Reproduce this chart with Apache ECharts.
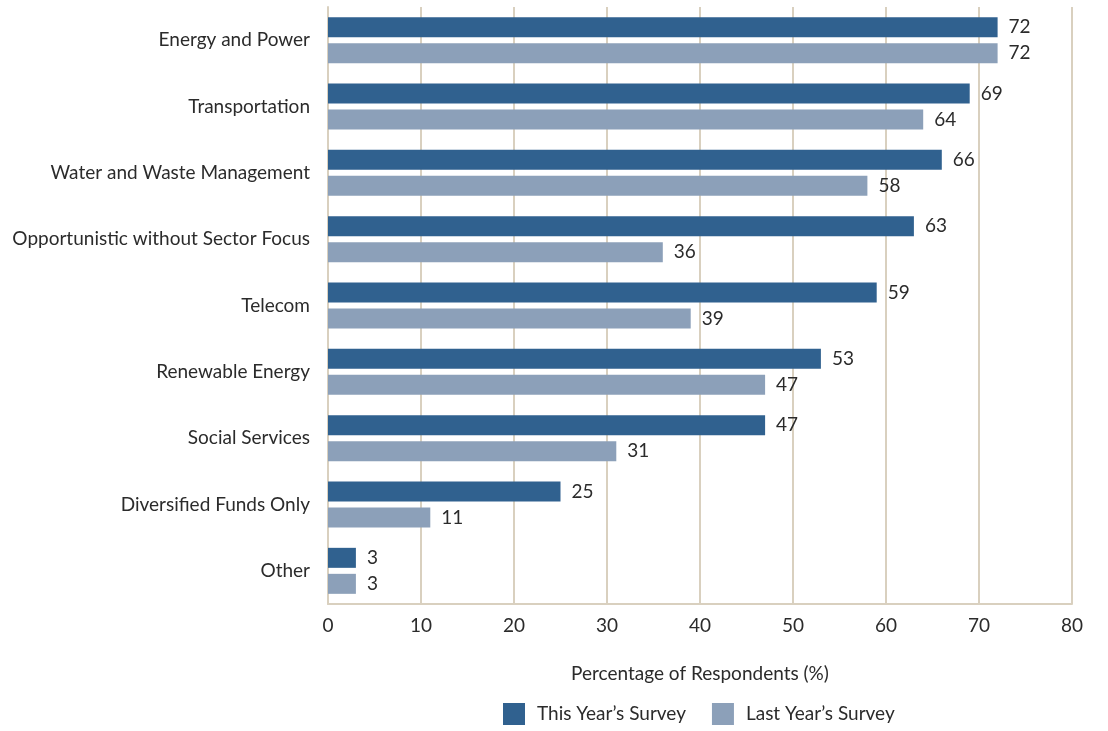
<!DOCTYPE html>
<html>
<head>
<meta charset="utf-8">
<script src="https://cdn.jsdelivr.net/npm/echarts@6/dist/echarts.min.js"></script>
<style>
  html, body { margin: 0; padding: 0; background: #fff; }
  #chart { width: 1108px; height: 731px; }
</style>
</head>
<body>
<div id="chart"></div>
<script>
// Sectors, listed top to bottom
const categories = [
  'Energy and Power',
  'Transportation',
  'Water and Waste Management',
  'Opportunistic without Sector Focus',
  'Telecom',
  'Renewable Energy',
  'Social Services',
  'Diversified Funds Only',
  'Other'
];
const thisYear = [72, 69, 66, 63, 59, 53, 47, 25, 3];
const lastYear = [72, 64, 58, 36, 39, 47, 31, 11, 3];
const xTicks = [0, 10, 20, 30, 40, 50, 60, 70, 80];

const FONT = 'Lato, "Open Sans", sans-serif';
const SIZE = 19;
const TEXT = '#2b2b2b';
const GRID = '#d9d0bf';

const chart = echarts.init(document.getElementById('chart'));

const labelStyle = {
  show: true,
  position: 'right',
  distance: 11,
  color: TEXT,
  fontFamily: FONT,
  fontSize: SIZE
};

chart.setOption({
  animation: false,
  grid: { left: 328, right: 36, top: 7, bottom: 127, containLabel: false },
  legend: {
    top: 703,
    left: 503,
    icon: 'rect',
    itemWidth: 22,
    itemHeight: 22,
    itemGap: 26,
    padding: 0,
    textStyle: { color: TEXT, fontFamily: FONT, fontSize: SIZE, padding: [0, 0, 0, 7] },
    data: ['This Year\u2019s Survey', 'Last Year\u2019s Survey']
  },
  xAxis: {
    type: 'value',
    min: xTicks[0],
    max: xTicks[xTicks.length - 1],
    interval: 10,
    name: 'Percentage of Respondents (%)',
    nameLocation: 'middle',
    nameGap: 60,
    nameTextStyle: { color: TEXT, fontFamily: FONT, fontSize: SIZE },
    axisLine: { show: true, lineStyle: { color: GRID, width: 2 } },
    axisTick: { show: false },
    axisLabel: { color: TEXT, fontFamily: FONT, fontSize: SIZE, margin: 12 },
    splitLine: { show: true, lineStyle: { color: GRID, width: 2 } }
  },
  yAxis: {
    type: 'category',
    data: categories,
    inverse: true,
    axisLine: { show: true, lineStyle: { color: GRID, width: 2 } },
    axisTick: { show: false },
    axisLabel: { color: TEXT, fontFamily: FONT, fontSize: SIZE, margin: 18 }
  },
  series: [
    {
      name: 'This Year\u2019s Survey',
      type: 'bar',
      data: thisYear,
      barWidth: 20,
      barGap: '30%',
      itemStyle: { color: '#30618f' },
      label: labelStyle
    },
    {
      name: 'Last Year\u2019s Survey',
      type: 'bar',
      data: lastYear,
      barWidth: 20,
      barGap: '30%',
      itemStyle: { color: '#8ca0b9' },
      label: labelStyle
    }
  ]
});
</script>
</body>
</html>
